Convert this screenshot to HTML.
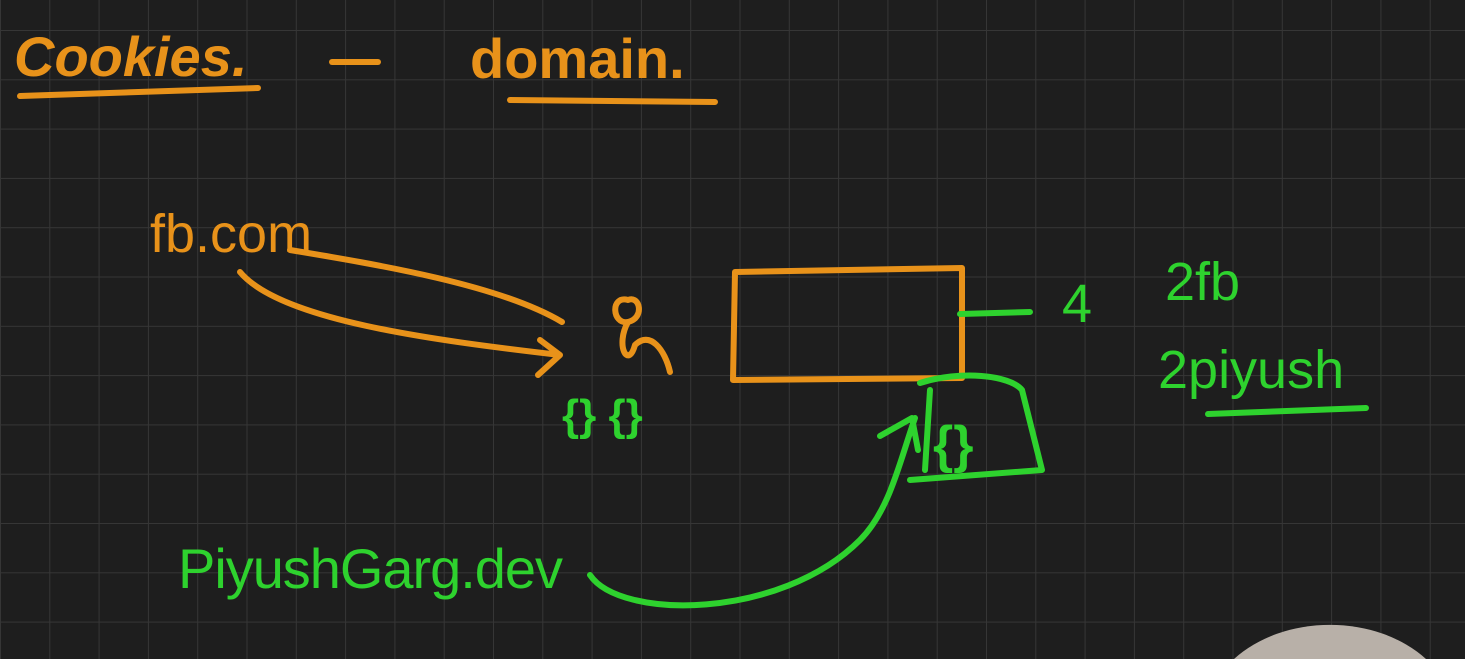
<!DOCTYPE html>
<html><head><meta charset="utf-8"><style>
html,body{margin:0;padding:0;background:#1f1f1f;width:1465px;height:659px;overflow:hidden;}
svg{display:block}
text{font-family:"Liberation Sans",sans-serif;}
</style></head><body>
<svg width="1465" height="659" viewBox="0 0 1465 659">
<defs><pattern id="g" x="1" y="31" width="49.3" height="49.3" patternUnits="userSpaceOnUse"><path d="M49.3 0V49.3M0 49.3H49.3" stroke="#363636" stroke-width="2" fill="none"/></pattern></defs>
<rect width="1465" height="659" fill="#1e1e1e"/>
<rect width="1465" height="659" fill="url(#g)"/>
<g fill="none" stroke="#e8921a" stroke-width="6" stroke-linecap="round" stroke-linejoin="round">
<path d="M20 96 L258 88"/>
<path d="M332 62 L378 62"/>
<path d="M510 100 L715 102"/>
<path d="M290 250 C380 265 500 285 562 322"/>
<path d="M240 272 C280 320 430 340 560 355 M540 340 L560 355 L538 375"/>
<path d="M628 300 C610 295 612 325 628 322 C645 318 640 295 628 300 M628 322 C615 345 628 370 635 345 C650 330 665 350 670 372"/>
<path d="M735 272 L962 268 L962 378 L733 380 Z"/>
</g>
<g fill="none" stroke="#2ed22e" stroke-width="6" stroke-linecap="round" stroke-linejoin="round">
<path d="M960 314 L1030 312"/>
<path d="M1208 414 L1366 408"/>
<path d="M920 383 C960 370 1010 375 1022 390 L1042 470 L910 480 M930 390 L925 470"/>
<path d="M590 575 C620 620 780 620 860 540 C890 510 900 460 915 418 M880 436 L912 418 L918 450"/>
</g>
<g fill="#e8921a" font-size="56" font-weight="bold">
<text x="14" y="76" font-style="italic">Cookies.</text>
<text x="470" y="78">domain.</text>
<text x="150" y="252" font-size="54" font-weight="normal">fb.com</text>
</g>
<g fill="#2ed22e">
<text x="562" y="430" font-size="44" font-weight="bold">{} {}</text>
<text x="933" y="462" font-size="52" font-weight="bold">{}</text>
<text x="1062" y="322" font-size="54">4</text>
<text x="1165" y="300" font-size="54">2fb</text>
<text x="1158" y="388" font-size="54">2piyush</text>
<text x="178" y="588" font-size="56" textLength="385">PiyushGarg.dev</text>
</g>
<path d="M1234 659 A125 95 0 0 1 1426 659 Z" fill="#b8b0a8"/>
</svg>
</body></html>
